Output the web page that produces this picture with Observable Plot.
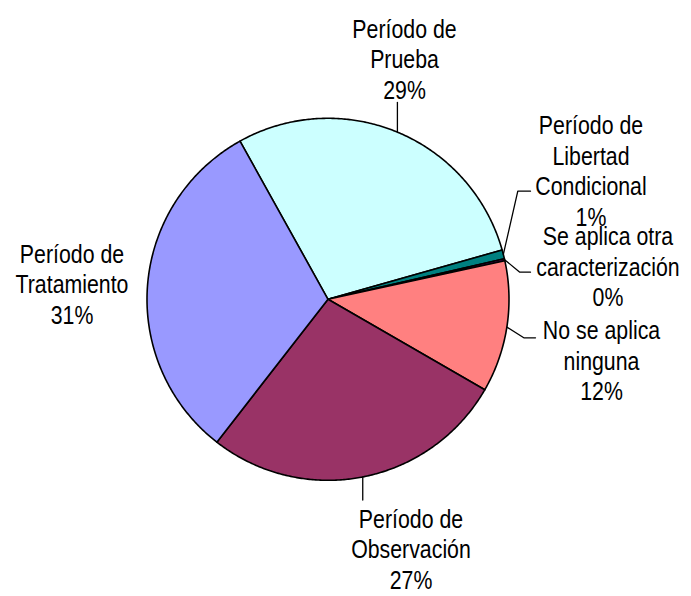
<!DOCTYPE html>
<html>
<head>
<meta charset="utf-8">
<script src="https://cdn.jsdelivr.net/npm/d3@7"></script>
<script src="https://cdn.jsdelivr.net/npm/@observablehq/plot@0.6"></script>
<style>
  html, body { margin: 0; padding: 0; background: #fff; }
  #chart svg { display: block; }
</style>
</head>
<body>
<div id="chart"></div>
<script>
// ---- data (clockwise from the slice starting at upper-left) ----
const categories = [
  "Período de\nPrueba",
  "Período de\nLibertad\nCondicional",
  "Se aplica otra\ncaracterización",
  "No se aplica\nninguna",
  "Período de\nObservación",
  "Período de\nTratamiento"
];
const values = [28.7, 0.8, 0.17, 11.75, 27.2, 31.4];
const colors = ["#CCFFFF", "#008080", "#660066", "#FF8080", "#993366", "#9999FF"];

// ---- layout (pixels) ----
const W = 691, H = 596;
const cx = 327.5, cy = 298.8, R = 181;
const startDeg = -29.1;
const fontSize = 26, lineH = 30.5, squeeze = 0.82;
// label center x, first-line baseline
const labelPos = [[404, 34], [590.5, 130.5], [607.5, 241.5], [601, 335.5], [410.5, 524], [71.5, 259]];
// leader line bend points (null x => same x as start)
const leaderPts = [
  [[null, 102]],
  [[517.3, 190.7], [530, 190.7]],
  [[519.3, 271.7], [530, 271.7]],
  [[523.3, 337.3], [535, 337.3]],
  [[null, 499.5]],
  null
];

const total = d3.sum(values);
const pie = d3.pie().sort(null).value(d => d)
  .startAngle(startDeg * Math.PI / 180)
  .endAngle(startDeg * Math.PI / 180 + 2 * Math.PI);
const arcs = pie(values);
const px = a => cx + R * Math.sin(a);
const py = a => cy - R * Math.cos(a);

const marks = [];
arcs.forEach((a, i) => {
  const pts = [{x: cx, y: cy}];
  const n = Math.max(2, Math.ceil((a.endAngle - a.startAngle) / (Math.PI / 360)));
  for (let k = 0; k <= n; k++) {
    const t = a.startAngle + (a.endAngle - a.startAngle) * k / n;
    pts.push({x: px(t), y: py(t)});
  }
  marks.push(Plot.line(pts, {x: "x", y: "y", curve: "linear-closed",
    fill: colors[i], stroke: "black", strokeWidth: 1.6, strokeLinejoin: "round"}));
});

// leader lines
arcs.forEach((a, i) => {
  if (!leaderPts[i]) return;
  const mid = (a.startAngle + a.endAngle) / 2;
  const s = {x: px(mid), y: py(mid)};
  const pts = [s, ...leaderPts[i].map(([x, y]) => ({x: x == null ? s.x : x, y}))];
  marks.push(Plot.line(pts, {x: "x", y: "y", stroke: "black", strokeWidth: 1.3}));
});

// labels
const labels = arcs.map((a, i) => ({
  text: categories[i] + "\n" + Math.round(values[i] / total * 100) + "%",
  x: labelPos[i][0],
  y: labelPos[i][1] - 0.71 * fontSize
}));
marks.push(Plot.text(labels, {x: "x", y: "y", text: "text", textAnchor: "middle",
  lineAnchor: "top", lineHeight: lineH / fontSize, fontSize, fill: "black"}));

const chart = Plot.plot({
  width: W, height: H,
  margin: 0,
  x: {domain: [0, W], range: [0, W], axis: null},
  y: {domain: [0, H], range: [0, H], axis: null},
  style: {fontFamily: "'Liberation Sans', Arial, sans-serif", background: "white"},
  marks
});
// condense the label glyphs horizontally, like the original narrow typeface
chart.querySelectorAll("text").forEach(t => {
  let tr = t.getAttribute("transform") || "";
  const ax = t.getAttribute("x"), ay = t.getAttribute("y");
  if (ax != null || ay != null) {
    tr = `translate(${+ax || 0},${+ay || 0}) ` + tr;
    t.removeAttribute("x"); t.removeAttribute("y");
  }
  t.setAttribute("transform", tr + ` scale(${squeeze},1)`);
});
document.getElementById("chart").append(chart);
</script>
</body>
</html>
